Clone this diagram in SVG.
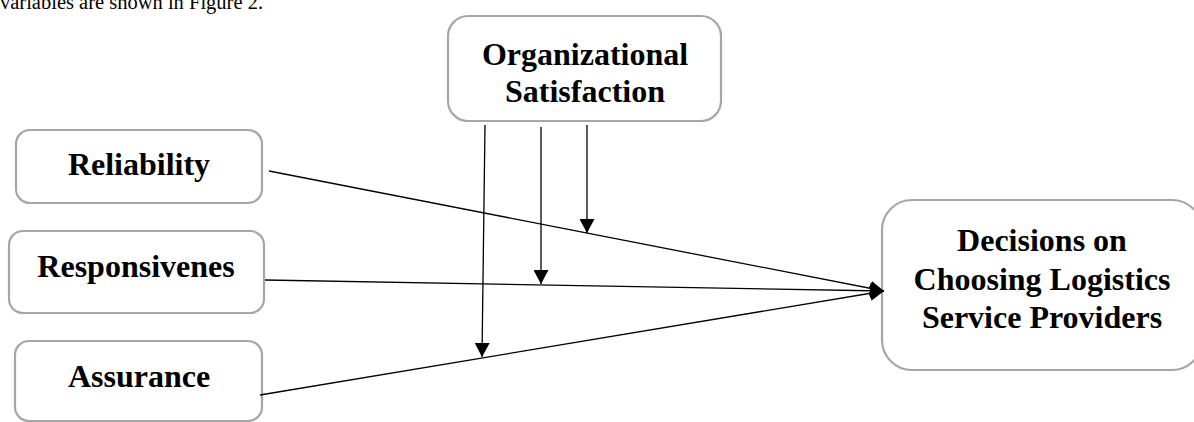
<svg xmlns="http://www.w3.org/2000/svg" width="1194" height="422" viewBox="0 0 1194 422">
<defs>
<style>
.box{fill:#fff;stroke:#a6a6a6;stroke-width:2.2}
.lbl{font-family:"Liberation Serif","Times New Roman",serif;font-weight:bold;font-size:32px;fill:#000;text-anchor:middle}
.cap{font-family:"Liberation Serif","Times New Roman",serif;font-size:20.5px;fill:#000}
.ln{stroke:#000;stroke-width:1.3;fill:none;marker-end:url(#ah)}
</style>
<marker id="ah" viewBox="0 0 14 15" refX="14" refY="7.5" markerWidth="14" markerHeight="15" markerUnits="userSpaceOnUse" orient="auto">
<path d="M0,0 L14,7.5 L0,15 Z" fill="#000"/>
</marker>
</defs>
<rect width="1194" height="422" fill="#fff"/>
<text class="cap" x="0" y="9">variables are shown in Figure 2.</text>
<g id="org">
<rect class="box" x="448" y="16" width="273" height="105" rx="20"/>
<text class="lbl" x="585" y="65">Organizational</text>
<text class="lbl" x="585" y="102">Satisfaction</text>
</g>
<g id="reliability">
<rect class="box" x="16" y="130" width="246" height="73" rx="14"/>
<text class="lbl" x="139" y="175">Reliability</text>
</g>
<g id="responsiveness">
<rect class="box" x="9" y="231" width="255" height="82" rx="14"/>
<text class="lbl" x="136" y="277">Responsivenes</text>
</g>
<g id="assurance">
<rect class="box" x="15" y="341" width="247" height="80" rx="14"/>
<text class="lbl" x="139" y="387">Assurance</text>
</g>
<g id="decision">
<rect class="box" x="882" y="200" width="320" height="170" rx="30"/>
<text class="lbl" x="1042" y="251">Decisions on</text>
<text class="lbl" x="1042" y="290">Choosing Logistics</text>
<text class="lbl" x="1042" y="328">Service Providers</text>
</g>
<g id="connectors">
<line class="ln" x1="269" y1="171" x2="884" y2="291"/>
<line class="ln" x1="265" y1="280" x2="884" y2="291"/>
<line class="ln" x1="260" y1="395" x2="884" y2="291"/>
<line class="ln" x1="485" y1="125" x2="482" y2="357"/>
<line class="ln" x1="541" y1="127" x2="541" y2="284"/>
<line class="ln" x1="587" y1="125" x2="587" y2="233"/>
</g>
</svg>
